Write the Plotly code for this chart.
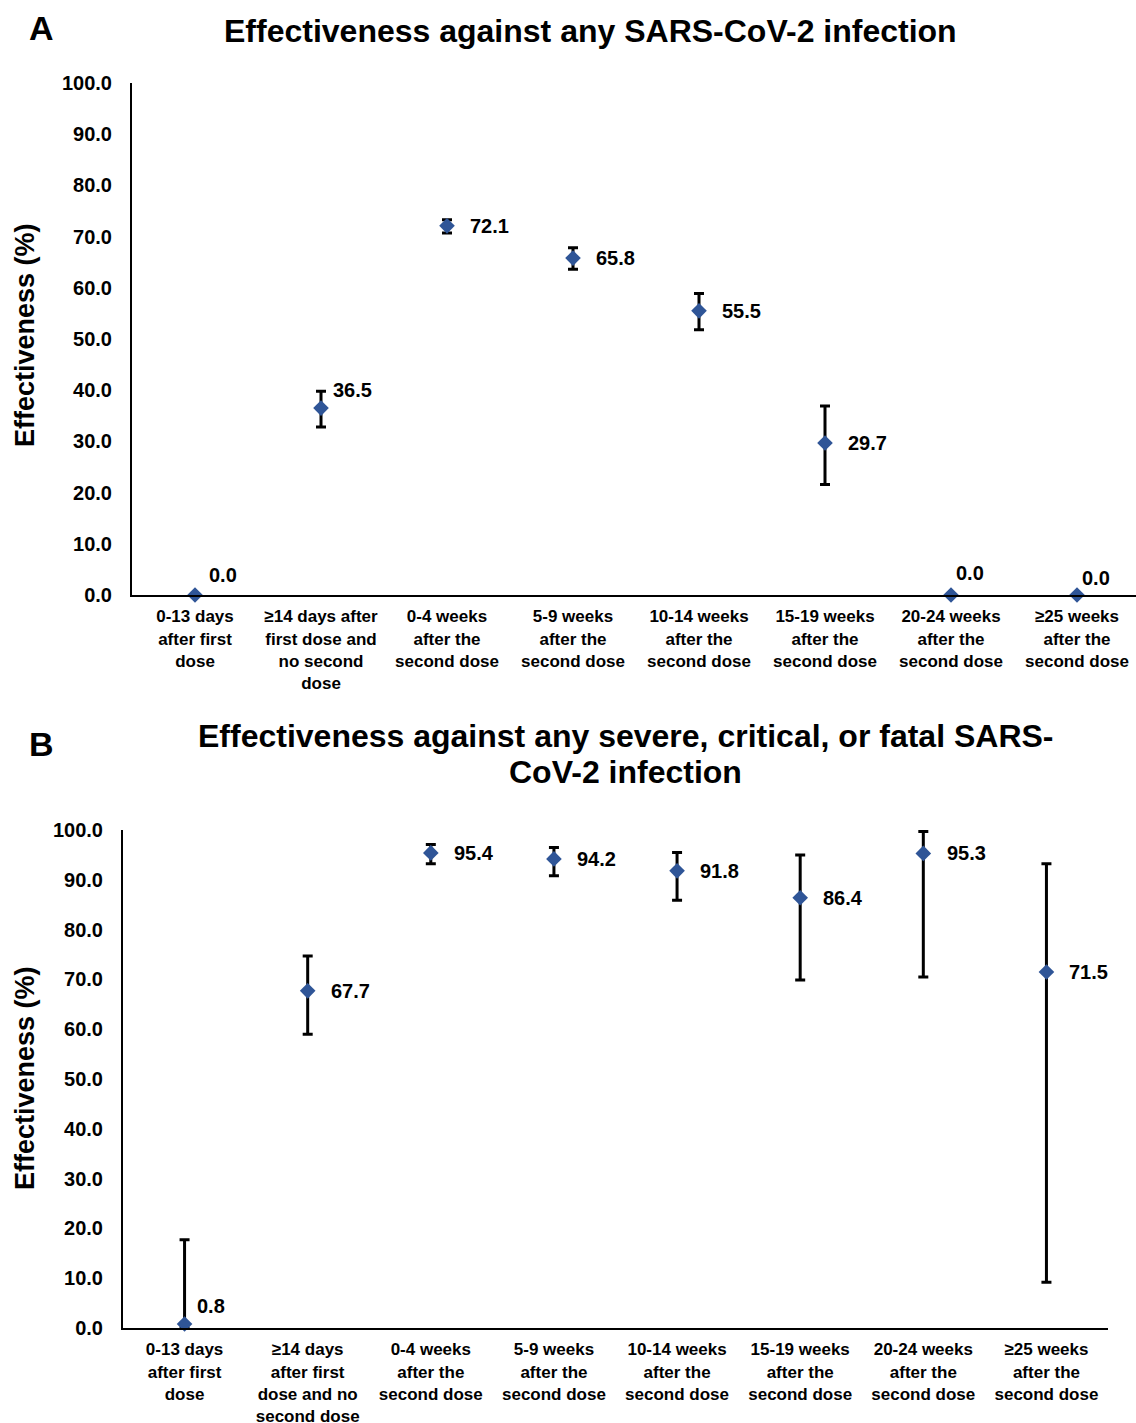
import plotly.graph_objects as go

# ---------------- data ----------------
categories_a = [
    "0-13 days<br>after first<br>dose",
    "≥14 days after<br>first dose and<br>no second<br>dose",
    "0-4 weeks<br>after the<br>second dose",
    "5-9 weeks<br>after the<br>second dose",
    "10-14 weeks<br>after the<br>second dose",
    "15-19 weeks<br>after the<br>second dose",
    "20-24 weeks<br>after the<br>second dose",
    "≥25 weeks<br>after the<br>second dose",
]
categories_b = [
    "0-13 days<br>after first<br>dose",
    "≥14 days<br>after first<br>dose and no<br>second dose",
    "0-4 weeks<br>after the<br>second dose",
    "5-9 weeks<br>after the<br>second dose",
    "10-14 weeks<br>after the<br>second dose",
    "15-19 weeks<br>after the<br>second dose",
    "20-24 weeks<br>after the<br>second dose",
    "≥25 weeks<br>after the<br>second dose",
]

effect_a = [0.0, 36.5, 72.1, 65.8, 55.5, 29.7, 0.0, 0.0]
upper_a = [0.0, 39.8, 73.3, 67.8, 58.9, 36.9, 0.0, 0.0]
lower_a = [0.0, 32.8, 70.7, 63.6, 51.8, 21.6, 0.0, 0.0]

effect_b = [0.8, 67.7, 95.4, 94.2, 91.8, 86.4, 95.3, 71.5]
upper_b = [17.7, 74.7, 97.1, 96.5, 95.5, 95.0, 99.7, 93.2]
lower_b = [0.0, 59.0, 93.2, 90.8, 85.9, 69.9, 70.5, 9.2]

y_ticks = [0, 10, 20, 30, 40, 50, 60, 70, 80, 90, 100]

title_a = "Effectiveness against any SARS-CoV-2 infection"
title_b_lines = ["Effectiveness against any severe, critical, or fatal SARS-",
                 "CoV-2 infection"]
y_title = "Effectiveness (%)"

# ---------------- style ----------------
W, H = 1136, 1423
FONT = "Liberation Sans, Arial, sans-serif"
BLUE = "#2F5597"
# label offsets (px) per point: (xshift, yshift)
label_off_a = [(12, 20), (10, 18), (21, 0), (21, 0), (21, 0), (21, 0), (3, 22), (3, 17)]
label_off_b = [(10, 18), (21, 0), (21, 0), (21, 0), (21, 0), (21, 0), (22, 0), (21, 0)]

fig = go.Figure()


def add_panel(cats, vals, up, lo, xa, ya, offs):
    idx = [i for i in range(len(vals)) if up[i] != lo[i]]
    fig.add_trace(go.Scatter(
        x=[cats[i] for i in idx], y=[vals[i] for i in idx],
        mode="markers", marker=dict(size=1, color="rgba(0,0,0,0)"),
        error_y=dict(type="data", symmetric=False,
                     array=[up[i] - vals[i] for i in idx],
                     arrayminus=[vals[i] - lo[i] for i in idx],
                     color="black", thickness=3, width=5),
        xaxis=xa, yaxis=ya, showlegend=False, hoverinfo="skip", cliponaxis=False,
    ))
    fig.add_trace(go.Scatter(
        x=cats, y=vals, mode="markers",
        marker=dict(symbol="diamond", size=12, color=BLUE),
        xaxis=xa, yaxis=ya, showlegend=False, cliponaxis=False,
    ))
    for c, v, (dx, dy) in zip(cats, vals, offs):
        fig.add_annotation(x=c, y=v, xref=xa, yref=ya, text=f"{v:.1f}",
                           showarrow=False, xanchor="left", yanchor="middle",
                           xshift=dx, yshift=dy,
                           font=dict(family=FONT, size=20, color="black", weight="bold"))


add_panel(categories_a, effect_a, upper_a, lower_a, "x", "y", label_off_a)
add_panel(categories_b, effect_b, upper_b, lower_b, "x2", "y2", label_off_b)

tickfont_y = dict(family=FONT, size=20, color="black", weight="bold")
tickfont_x = dict(family=FONT, size=17, color="black", weight="bold")

yaxis_common = dict(range=[0, 100], tickvals=y_ticks, tickformat=".1f",
                    showgrid=False, zeroline=False, showline=True,
                    linecolor="black", linewidth=2, ticks="", automargin=False,
                    tickfont=tickfont_y, ticklabelstandoff=14)
xaxis_common = dict(type="category", showgrid=False, zeroline=False, showline=True,
                    linecolor="black", linewidth=2, ticks="", automargin=False,
                    tickfont=tickfont_x, ticklabelstandoff=5, tickangle=0)

fig.update_layout(
    width=W, height=H, margin=dict(l=0, r=0, t=0, b=0, pad=0), autosize=False,
    paper_bgcolor="white", plot_bgcolor="white",
    xaxis=dict(domain=[132 / W, 1.0], range=[-0.5, -0.5 + (W - 132) / 126],
               anchor="y", categoryorder="array", categoryarray=categories_a,
               **xaxis_common),
    yaxis=dict(domain=[1 - 595 / H, 1 - 83 / H], anchor="x", **yaxis_common),
    xaxis2=dict(domain=[123 / W, 1108 / W], range=[-0.5, 7.5], anchor="y2",
                categoryorder="array", categoryarray=categories_b, **xaxis_common),
    yaxis2=dict(domain=[1 - 1328 / H, 1 - 830 / H], anchor="x2", **yaxis_common),
)


def bold(sz):
    return dict(family=FONT, size=sz, color="black", weight="bold")


# titles
fig.add_annotation(x=591 / W, y=1 - 31 / H, xref="paper", yref="paper", text=title_a,
                   showarrow=False, xanchor="center", yanchor="middle", font=bold(32))
for line, yc in zip(title_b_lines, [736, 772]):
    fig.add_annotation(x=625 / W, y=1 - yc / H, xref="paper", yref="paper", text=line,
                       showarrow=False, xanchor="center", yanchor="middle", font=bold(32))
# panel letters
fig.add_annotation(x=41 / W, y=1 - 28 / H, xref="paper", yref="paper", text="A",
                   showarrow=False, xanchor="center", yanchor="middle", font=bold(34))
fig.add_annotation(x=41 / W, y=1 - 744 / H, xref="paper", yref="paper", text="B",
                   showarrow=False, xanchor="center", yanchor="middle", font=bold(34))
# y titles
fig.add_annotation(x=25 / W, y=1 - 335 / H, xref="paper", yref="paper", text=y_title,
                   showarrow=False, textangle=-90, xanchor="center", yanchor="middle",
                   font=bold(27))
fig.add_annotation(x=25 / W, y=1 - 1078 / H, xref="paper", yref="paper", text=y_title,
                   showarrow=False, textangle=-90, xanchor="center", yanchor="middle",
                   font=bold(27))

fig.write_html("out.html", config={"displayModeBar": False},
               post_script="document.body.style.margin='0';document.body.style.padding='0';")
